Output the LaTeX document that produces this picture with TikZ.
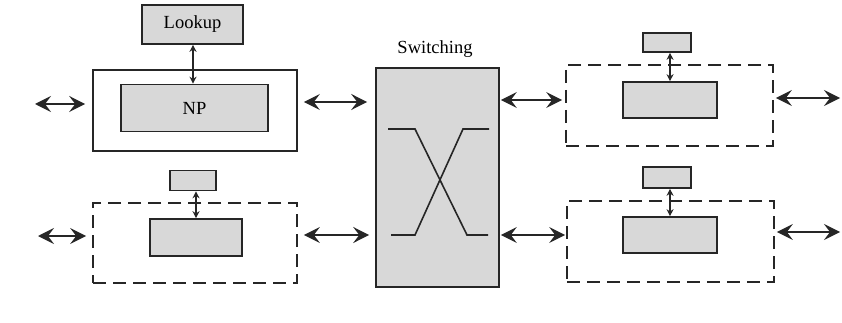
\documentclass[tikz,border=0pt]{standalone}
\usepackage{fontspec}
\setmainfont{Liberation Serif}
\usetikzlibrary{arrows.meta}
\definecolor{boxfill}{HTML}{D8D8D8}
\definecolor{ink}{HTML}{262626}
\tikzset{
  gbox/.style={draw=ink, fill=boxfill, line width=1.6pt, inner sep=0pt, rectangle, font=\fontsize{18.5}{20}\selectfont},
  solidframe/.style={draw=ink, line width=1.6pt, inner sep=0pt, rectangle},
  dashframe/.style={draw=ink, line width=1.7pt, inner sep=0pt, rectangle, dash pattern=on 13pt off 7pt},
  bigarrow/.style={draw=ink, line width=1.5pt, {Stealth[length=16pt,width=16pt,inset=6pt]}-{Stealth[length=16pt,width=16pt,inset=6pt]}},
  smallarrow/.style={draw=ink, line width=1.2pt, {Stealth[length=7pt,width=7pt]}-{Stealth[length=7pt,width=7pt]}},
  xline/.style={draw=ink, line width=1.6pt}
}
\begin{document}
\begin{tikzpicture}[x=1pt,y=-1pt]
\useasboundingbox (0,0) rectangle (842,323);
% top-left
\node[solidframe, minimum width=204pt, minimum height=81pt] (outer1) at (195,110.5) {};
\node[gbox, minimum width=101pt, minimum height=39pt] (lookup) at (192.5,24.5) {Lookup};
\node[gbox, minimum width=147pt, minimum height=47pt] (np) at (194.5,108) {NP};
\draw[smallarrow] (lookup.south -| 193,0) -- (np.north -| 193,0);
% bottom-left
\node[dashframe, minimum width=204pt, minimum height=80pt] (dash2) at (195,243) {};
\node[gbox, minimum width=46pt, minimum height=20pt] (small2) at (193,180.5) {};
\node[gbox, minimum width=92pt, minimum height=37pt] (inner2) at (196,237.5) {};
\draw[smallarrow] (inner2.north |- small2.south) -- (inner2.north);
% switch
\node[gbox, minimum width=123pt, minimum height=219pt] (switch) at (437.5,177.5) {};
\node[font=\fontsize{18.5}{20}\selectfont, anchor=south, inner sep=0pt] (swlabel) at (435,58) {Switching};
\draw[xline] (388,129) -- (415,129) -- (467,235) -- (488,235);
\draw[xline] (391,235) -- (415,235) -- (463,129) -- (489,129);
% top-right
\node[dashframe, minimum width=207pt, minimum height=81pt] (dash3) at (669.5,105.5) {};
\node[gbox, minimum width=48pt, minimum height=19pt] (small3) at (667,42.5) {};
\node[gbox, minimum width=94pt, minimum height=36pt] (inner3) at (670,100) {};
\draw[smallarrow] (inner3.north |- small3.south) -- (inner3.north);
% bottom-right
\node[dashframe, minimum width=207pt, minimum height=81pt] (dash4) at (670.5,241.5) {};
\node[gbox, minimum width=48pt, minimum height=21pt] (small4) at (667,177.5) {};
\node[gbox, minimum width=94pt, minimum height=36pt] (inner4) at (670,235) {};
\draw[smallarrow] (inner4.north |- small4.south) -- (inner4.north);
% free ends
\coordinate (fl1) at (35,104);
\coordinate (fl2) at (38,236);
\coordinate (fr3) at (840,98);
\coordinate (fr4) at (840,232);
\coordinate (m1) at (0,102);
\coordinate (m2) at (0,235);
\coordinate (m3) at (0,100);
\coordinate (m4) at (0,235);
% external arrows
\draw[bigarrow, shorten >=7pt] (fl1) -- (fl1 -| outer1.west);
\draw[bigarrow, shorten >=6pt] (fl2) -- (fl2 -| dash2.west);
\draw[bigarrow, shorten <=2pt] (fr3 -| dash3.east) -- (fr3);
\draw[bigarrow, shorten <=2pt] (fr4 -| dash4.east) -- (fr4);
% arrows to switch
\draw[bigarrow, shorten <=6pt, shorten >=8pt] (m1 -| outer1.east) -- (m1 -| switch.west);
\draw[bigarrow, shorten <=6pt, shorten >=6pt] (m2 -| dash2.east) -- (m2 -| switch.west);
\draw[bigarrow, shorten <=1pt, shorten >=3pt] (m3 -| switch.east) -- (m3 -| dash3.west);
\draw[bigarrow, shorten <=1pt, shorten >=1pt] (m4 -| switch.east) -- (m4 -| dash4.west);
\end{tikzpicture}
\end{document}
